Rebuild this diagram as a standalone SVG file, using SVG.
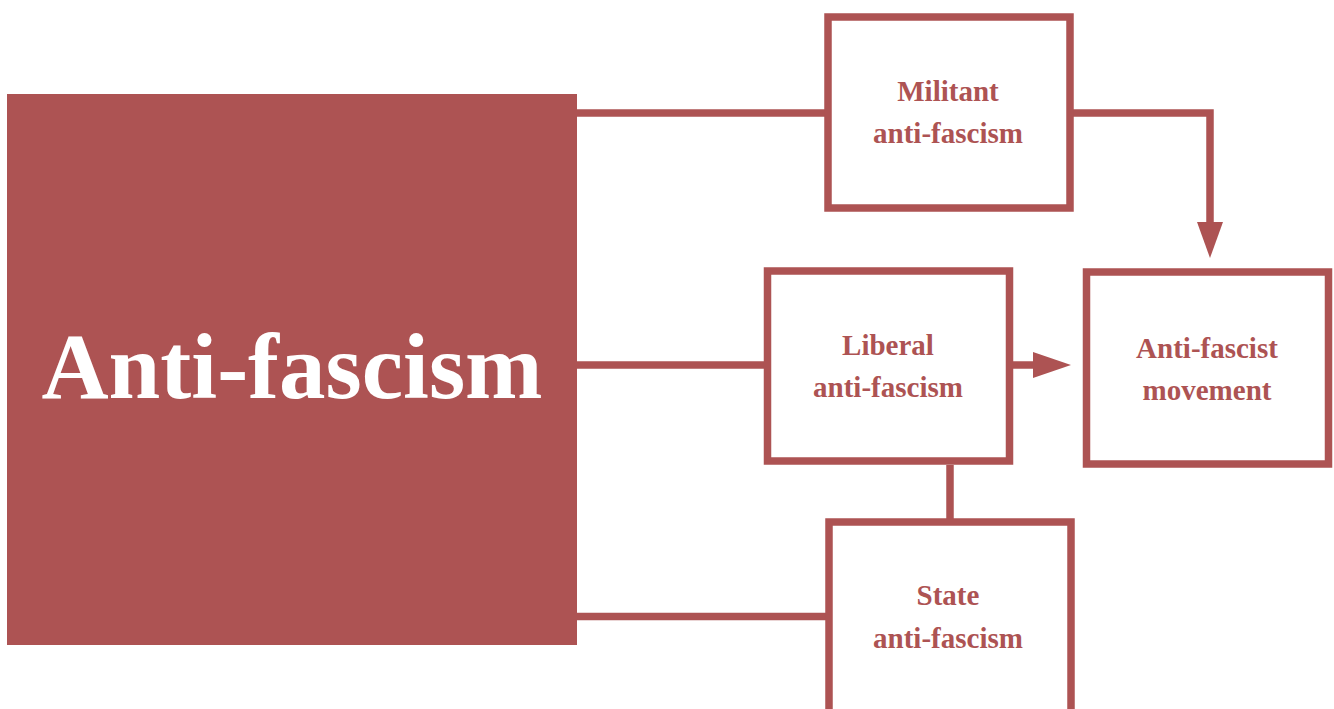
<svg xmlns="http://www.w3.org/2000/svg" width="1334" height="709" viewBox="0 0 1334 709">
<style>
.box{fill:#fff;stroke:#ad5353;stroke-width:7.5}
.lbl{font-family:"Liberation Serif","Times New Roman",serif;font-weight:bold;font-size:29px;fill:#ad5353;text-anchor:middle}
.main{font-family:"Liberation Serif","Times New Roman",serif;font-weight:bold;font-size:93px;fill:#fff;text-anchor:middle}
.con{fill:none;stroke:#ad5353;stroke-width:7.5}
.head{fill:#ad5353}
</style>
<rect width="1334" height="709" fill="#fff"/>
<g id="connectors">
<path class="con" d="M577 113 H826"/>
<path class="con" d="M577 365 H765"/>
<path class="con" d="M577 616.5 H826"/>
<path class="con" d="M1073 113 H1210 V224"/>
<polygon class="head" points="1197,222 1223,222 1210,258"/>
<path class="con" d="M1012 365 H1036"/>
<polygon class="head" points="1033,352 1033,378 1071,365"/>
<path class="con" d="M950 465 V519"/>
</g>
<g id="anti-fascism">
<rect x="7" y="94" width="570" height="551" fill="#ad5353"/>
<text class="main" x="292" y="398">Anti-fascism</text>
</g>
<g id="militant">
<rect class="box" x="828" y="17" width="242" height="191"/>
<text class="lbl" x="948" y="101">Militant</text>
<text class="lbl" x="948" y="143">anti-fascism</text>
</g>
<g id="liberal">
<rect class="box" x="767.5" y="271" width="242" height="190"/>
<text class="lbl" x="888" y="355">Liberal</text>
<text class="lbl" x="888" y="397">anti-fascism</text>
</g>
<g id="movement">
<rect class="box" x="1086.5" y="272" width="242" height="192"/>
<text class="lbl" x="1207" y="358">Anti-fascist</text>
<text class="lbl" x="1207" y="400">movement</text>
</g>
<g id="state">
<rect class="box" x="829" y="522" width="242" height="220"/>
<text class="lbl" x="948" y="605">State</text>
<text class="lbl" x="948" y="648">anti-fascism</text>
</g>
</svg>
